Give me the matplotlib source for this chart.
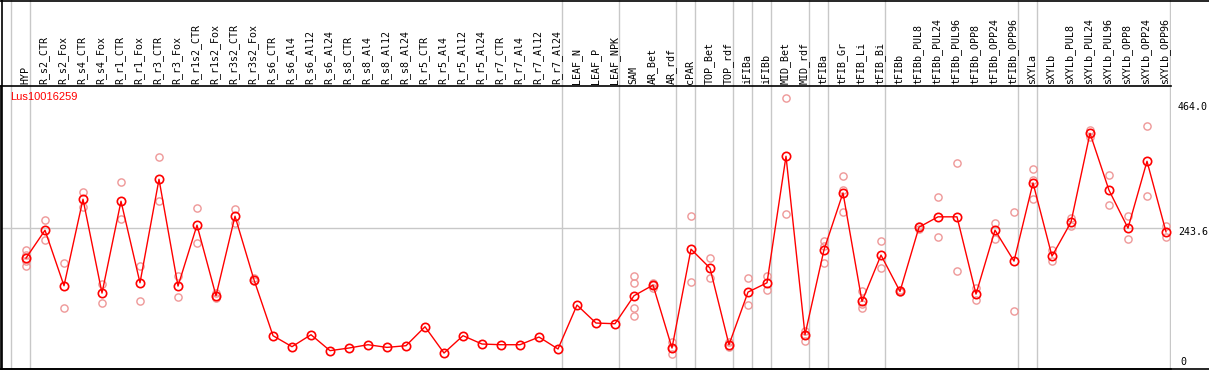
import matplotlib
matplotlib.use("Agg")
import matplotlib.pyplot as plt
from matplotlib.lines import Line2D

# sample names, left to right
samples = ["HYP",
           "R_s2_CTR", "R_s2_Fox", "R_s4_CTR", "R_s4_Fox", "R_r1_CTR", "R_r1_Fox",
           "R_r3_CTR", "R_r3_Fox", "R_r1s2_CTR", "R_r1s2_Fox", "R_r3s2_CTR", "R_r3s2_Fox",
           "R_s6_CTR", "R_s6_Al4", "R_s6_Al12", "R_s6_Al24", "R_s8_CTR", "R_s8_Al4",
           "R_s8_Al12", "R_s8_Al24", "R_r5_CTR", "R_r5_Al4", "R_r5_Al12", "R_r5_Al24",
           "R_r7_CTR", "R_r7_Al4", "R_r7_Al12", "R_r7_Al24",
           "LEAF_N", "LEAF_P", "LEAF_NPK",
           "SAM", "AR_Bet", "AR_rdf",
           "cPAR",
           "TOP_Bet", "TOP_rdf",
           "iFIBa",
           "iFIBb",
           "MID_Bet", "MID_rdf",
           "tFIBa",
           "tFIB_Gr", "tFIB_Li", "tFIB_Bi",
           "tFIBb", "tFIBb_PUL8", "tFIBb_PUL24", "tFIBb_PUL96", "tFIBb_OPP8",
           "tFIBb_OPP24", "tFIBb_OPP96",
           "sXYLa",
           "sXYLb", "sXYLb_PUL8", "sXYLb_PUL24", "sXYLb_PUL96", "sXYLb_OPP8",
           "sXYLb_OPP24", "sXYLb_OPP96"]

# how many samples in each block between the grey separators
group_sizes = [1, 28, 3, 3, 1, 2, 1, 1, 2, 1, 3, 7, 1, 7]

# mean expression
means = [191.8, 240.0, 144.0, 293.7, 131.3, 290.2, 149.1, 328.2, 143.4, 248.8,
         126.7, 264.3, 154.3, 57.6, 38.6, 59.3, 31.7, 36.3, 42.0, 37.4,
         40.3, 73.1, 27.6, 57.6, 43.2, 42.0, 42.0, 55.3, 34.6,
         110.6, 79.5, 78.3,
         126.7, 145.1, 36.3,
         207.3,
         174.5, 42.0,
         133.0,
         149.1,
         368.0, 59.3,
         206.2,
         304.6, 116.9, 197.0,
         134.2, 245.3, 263.2, 263.2, 129.6, 240.1, 186.6,
         321.9,
         195.2, 254.0, 407.7, 309.2, 243.6, 359.3, 237.3]

# replicate values
reps = [[205, 197, 186, 178.5], [257.4, 222.3], [183, 105.4], [305.8, 279.9],
        [147.4, 114], [323, 259], [178, 117.5], [366.8, 290.2], [161.2, 125],
        [278.1, 217.7], [131.3, 122], [276.4, 252.2], [156.6, 152],
        [], [], [], [], [], [], [], [], [], [], [], [], [], [], [], [],
        [], [], [],
        [160.7, 149.2, 105.4, 92.1], [148.6, 145.1, 140.5], [46, 36.3, 25.3],
        [264.3, 150.3],
        [191.8, 157.2], [47.2, 37.4],
        [157.2, 110.6],
        [160.7, 136.5],
        [468.2, 267.8], [66.2, 59.3, 49],
        [221.7, 213, 183.1],
        [333.4, 309.8, 271.2], [135.3, 112.3, 105.4], [221.7, 174.5],
        [137, 132.5], [248.2, 241.9], [297.2, 228.6], [355.9, 169.3], [140.5, 119.2],
        [252.8, 225.7], [271.8, 100.2],
        [345.5, 327.1, 293.7],
        [205.6, 186], [261.4, 246.5], [413.5, 400.8], [335.2, 283.3], [264.9, 224.6],
        [419.8, 298.9], [247.6, 227.5]]

gene = "Lus10016259"
y_ticks = ["464.0", "243.6", "0"]
mid_line = 243.6

W, H = 1209, 370
fig = plt.figure(figsize=(W / 100, H / 100), dpi=100)


def fx(px):
    return px / W


def fy(py):
    return 1 - py / H


grey = "#c8c8c8"
mono = "DejaVu Sans Mono"
x = list(range(len(samples)))
xlim = (-25 / 19, 1145 / 19)

ax = fig.add_axes([fx(1), fy(369), fx(1171) - fx(1), fy(86) - fy(369)])
lab = fig.add_axes([fx(1), fy(86), fx(1171) - fx(1), fy(0) - fy(86)])

# separators
bounds = [-1]
for g in group_sizes:
    bounds.append(bounds[-1] + g)
for b in bounds:
    for a in (ax, lab):
        a.axvline(b + 0.2, color=grey, lw=1.0, zorder=0)

ax.axhline(mid_line, color=grey, lw=1.0, zorder=0)

for i, r in enumerate(reps):
    if r:
        ax.plot([i] * len(r), r, "o", ms=5.2, mfc="none", mec="#ee9898",
                mew=1.0, zorder=2, clip_on=False)
ax.plot(x, means, "-", color="red", lw=1.0, marker="o", ms=6, mfc="none",
        mec="red", mew=1.2, zorder=3, clip_on=False)

ax.set_xlim(*xlim)
ax.set_ylim(0, 489.5)
ax.set_xticks([])
ax.set_yticks([])
for s in ("top", "right"):
    ax.spines[s].set_visible(False)
for s in ("left", "bottom"):
    ax.spines[s].set_linewidth(1.2)
    ax.spines[s].set_color("black")

lab.set_xlim(*xlim)
lab.set_ylim(0, 86)
lab.axis("off")
for i, name in enumerate(samples):
    lab.text(i - 0.05, 2, name, rotation=90, ha="center", va="bottom",
             family=mono, fontsize=7.2)

ax.text(9 / 1170, 1 - 11 / 283, gene, transform=ax.transAxes, color="red",
        family="Liberation Sans", fontsize=8, va="center", ha="left")

fig.text(fx(1178), fy(107), y_ticks[0], family=mono, fontsize=7.2, va="center", ha="left")
fig.text(fx(1178), fy(232), y_ticks[1], family=mono, fontsize=7.2, va="center", ha="left")
fig.text(fx(1180), fy(362), y_ticks[2], family=mono, fontsize=7.2, va="center", ha="left")

# frame lines
fig.add_artist(Line2D([fx(0), fx(W)], [fy(0.5), fy(0.5)], color="black", lw=1.2))
fig.add_artist(Line2D([fx(0), fx(W)], [fy(369), fy(369)], color="black", lw=1.2))
fig.add_artist(Line2D([fx(1), fx(1171)], [fy(86), fy(86)], color="black", lw=1.2))
fig.add_artist(Line2D([fx(1.5), fx(1.5)], [fy(0), fy(369)], color="black", lw=1.2))

fig.savefig("out.png", dpi=100)
